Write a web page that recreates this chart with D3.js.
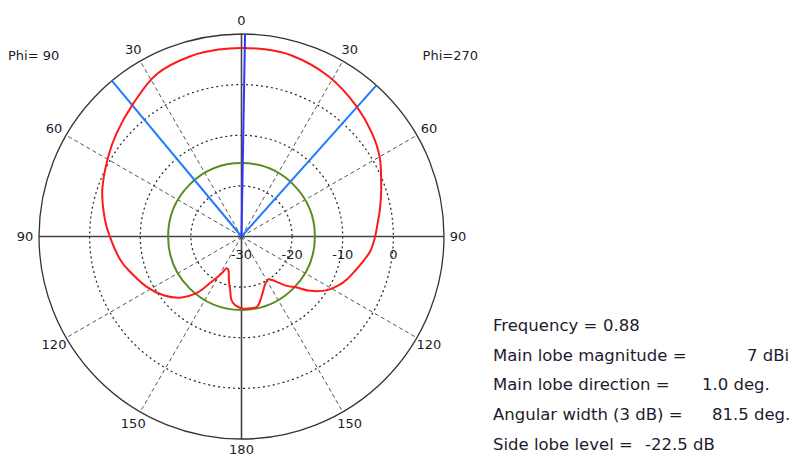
<!DOCTYPE html>
<html>
<head>
<meta charset="utf-8">
<script src="https://cdn.jsdelivr.net/npm/d3@7"></script>
<style>
  body { margin: 0; background: #fff; }
  svg { display: block; }
  text { font-family: "DejaVu Sans", sans-serif; fill: #1c1c2c; }
</style>
</head>
<body>
<div class="canva"></div>
<script>
// pattern data: angle in degrees (clockwise from top), gain in dBi
const angles = [-180, -179, -174.5, -171, -168, -164, -158.5, -155, -151.5, -146, -141.5, -135, -127, -118, -106.5, -102, -96, -90, -86, -79, -71.5, -59, -50.5, -39, -27.5, -16, -7, 0, 7, 15.5, 28.5, 41.5, 51.5, 60, 71.5, 79, 84.5, 90, 96.5, 102.5, 106.5, 112, 117, 122.5, 128.5, 133, 137, 141, 145, 148, 153, 158, 161.5, 167.5, 173];
const gain = [-15.8, -15.9, -16.4, -17.3, -19.2, -21.0, -22.9, -23.1, -21.7, -18.9, -15.7, -12.9, -10.7, -8.8, -6.7, -5.8, -4.9, -4.0, -3.3, -2.2, -1.0, 0.7, 2.0, 3.9, 6.2, 7.0, 7.2, 7.25, 7.25, 7.1, 6.0, 4.3, 2.9, 1.5, -0.9, -2.15, -3.0, -3.6, -4.4, -5.7, -6.5, -7.5, -8.6, -10.2, -12.8, -15.3, -16.6, -18.2, -19.5, -20.0, -19.6, -18.5, -17.5, -15.8, -15.7];

const ringValues = [-20, -10, 0];
const radialLabels = [-30, -20, -10, 0];
const spokeAngles = [-150, -120, -60, -30, 30, 60, 120, 150];
const angleTicks = [-150, -120, -90, -60, -30, 0, 30, 60, 90, 120, 150, 180];

const frequency = 0.88;
const mainLobe = 7;
const mainDirection = 1.0;
const beamWidth = 81.5;
const sideLobe = -22.5;

const infoLabels = ["Frequency =", "Main lobe magnitude =", "Main lobe direction =", "Angular width (3 dB) =", "Side lobe level ="];
const infoValues = ["0.88", "7 dBi", "1.0 deg.", "81.5 deg.", "-22.5 dB"];

const width = 796, height = 458;
const cx = 241.5, cy = 236.5;
const radius = 202.5;

const svg = d3.select(".canva").append("svg")
    .attr("width", width)
    .attr("height", height);

const r = d3.scaleLinear().domain([-30, 10]).range([0, radius]);
const a = d3.scaleLinear().domain([-180, 180]).range([-Math.PI, Math.PI]);

const g = svg.append("g").attr("transform", `translate(${cx}, ${cy})`);

// point on the plot
const px = (ang, val) => r(val) * Math.sin(a(ang));
const py = (ang, val) => -r(val) * Math.cos(a(ang));

// dotted rings
g.selectAll(".ring")
  .data(ringValues)
  .enter().append("circle")
    .attr("r", d => r(d))
    .attr("fill", "none")
    .attr("stroke", "#222")
    .attr("stroke-width", 1.2)
    .attr("stroke-dasharray", "2,3");

// dashed spokes
g.selectAll(".spoke")
  .data(spokeAngles)
  .enter().append("line")
    .attr("x1", 0).attr("y1", 0)
    .attr("x2", d => px(d, 10))
    .attr("y2", d => py(d, 10))
    .attr("stroke", "#555")
    .attr("stroke-width", 1)
    .attr("stroke-dasharray", "4,3");

// main axes
[0, 90].forEach(d => {
  g.append("line")
    .attr("x1", px(d, 10)).attr("y1", py(d, 10))
    .attr("x2", px(d + 180, 10)).attr("y2", py(d + 180, 10))
    .attr("stroke", "#444")
    .attr("stroke-width", 1.6);
});

// outer circle
g.append("circle")
  .attr("r", r(10))
  .attr("fill", "none")
  .attr("stroke", "#333")
  .attr("stroke-width", 1.3);

// side lobe level circle
g.append("circle")
  .attr("r", r(mainLobe + sideLobe))
  .attr("fill", "none")
  .attr("stroke", "#5b8a22")
  .attr("stroke-width", 2);

// beam width lines
[mainDirection - beamWidth / 2, mainDirection + beamWidth / 2].forEach(d => {
  g.append("line")
    .attr("x1", 0).attr("y1", 0)
    .attr("x2", px(d, 10)).attr("y2", py(d, 10))
    .attr("stroke", "#1f7bff")
    .attr("stroke-width", 2);
});

// pattern
const pattern = angles.map((d, i) => ({angle: d, value: gain[i]}));
const line = d3.lineRadial()
    .angle(d => a(d.angle))
    .radius(d => r(d.value))
    .curve(d3.curveCatmullRomClosed.alpha(0.5));

g.append("path")
  .datum(pattern)
  .attr("d", line)
  .attr("fill", "none")
  .attr("stroke", "#ff1a1a")
  .attr("stroke-width", 2);

// main lobe direction
g.append("line")
  .attr("x1", 0).attr("y1", 0)
  .attr("x2", px(mainDirection, 10)).attr("y2", py(mainDirection, 10))
  .attr("stroke", "#3434ff")
  .attr("stroke-width", 2);

// angle labels
g.selectAll(".alabel")
  .data(angleTicks)
  .enter().append("text")
    .attr("x", d => px(d, 10) + 14 * Math.sin(a(d)))
    .attr("y", d => Math.min(py(d, 10) - 14 * Math.cos(a(d)), height - cy - 9))
    .attr("text-anchor", "middle")
    .attr("dominant-baseline", "central")
    .style("font-size", "13px")
    .text(d => Math.abs(d));

// radial labels
g.selectAll(".rlabel")
  .data(radialLabels)
  .enter().append("text")
    .attr("x", d => r(d))
    .attr("y", 22)
    .attr("text-anchor", "middle")
    .style("font-size", "13px")
    .text(d => d);

svg.append("text").attr("x", 8).attr("y", 60).style("font-size", "13px").text("Phi= 90");
svg.append("text").attr("x", 478).attr("y", 60).attr("text-anchor", "end").style("font-size", "13px").text("Phi=270");

// info block
const valueX = [603, 747, 702, 712, 645];
const info = svg.append("g");
infoLabels.forEach((d, i) => {
  const t = info.append("text")
    .attr("y", 331 + i * 29.7)
    .style("font-size", "16.5px");
  t.append("tspan").attr("x", 493).text(d);
  t.append("tspan").attr("x", valueX[i]).text(infoValues[i]);
});
</script>
</body>
</html>
